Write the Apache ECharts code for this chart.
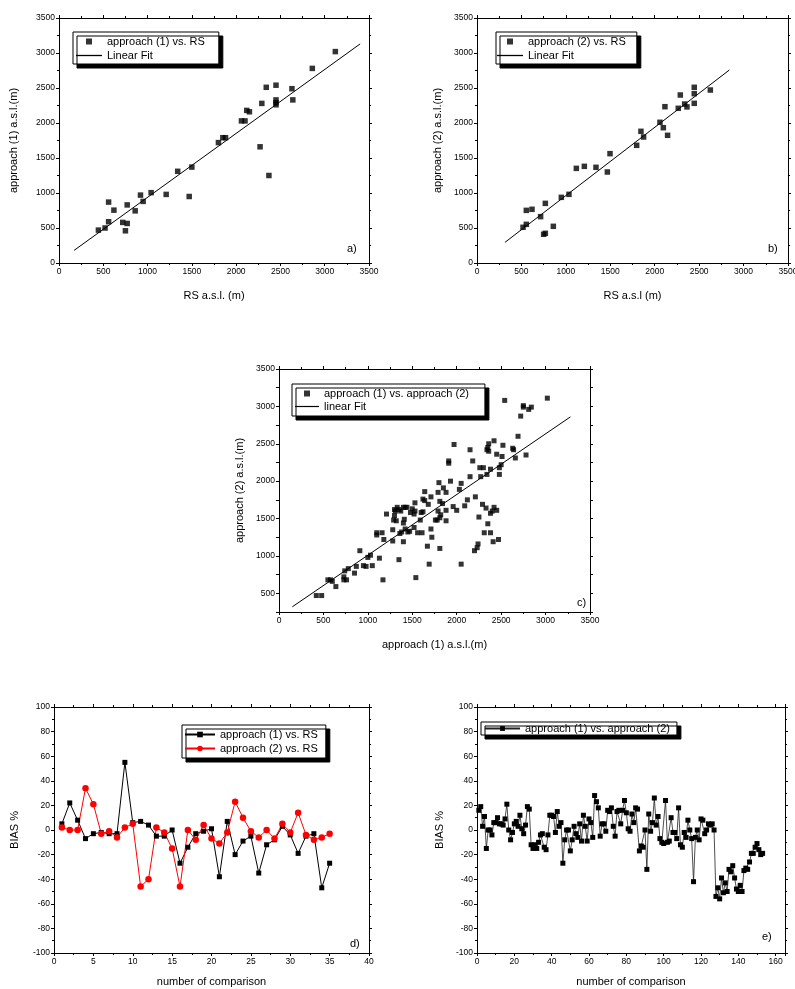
<!DOCTYPE html>
<html>
<head>
<meta charset="utf-8">
<script src="https://cdn.jsdelivr.net/npm/echarts@6/dist/echarts.min.js"></script>
<style>
  body { margin: 0; background: #fff; }
  .panel { position: absolute; }
  #pa { left: 0; top: 0; width: 398px; height: 310px; }
  #pb { left: 398px; top: 0; width: 397px; height: 310px; }
  #pc { left: 200px; top: 340px; width: 420px; height: 330px; }
  #pd { left: 0; top: 680px; width: 398px; height: 309px; }
  #pe { left: 398px; top: 680px; width: 397px; height: 309px; }
</style>
</head>
<body>
<div id="pa" class="panel"></div>
<div id="pb" class="panel"></div>
<div id="pc" class="panel"></div>
<div id="pd" class="panel"></div>
<div id="pe" class="panel"></div>
<script>
// a) approach (1) vs. RS
var rsA = [445, 520, 560, 560, 620, 720, 750, 770, 770, 860, 920, 950, 1040, 1210, 1340, 1470, 1500, 1800, 1850, 1880, 2060, 2100, 2120, 2150, 2270, 2290, 2340, 2370, 2450, 2450, 2450, 2450, 2630, 2640, 2860, 3120];
var ap1A = [470, 500, 590, 870, 755, 580, 460, 565, 830, 745, 970, 880, 1005, 980, 1310, 950, 1370, 1720, 1790, 1790, 2030, 2030, 2180, 2160, 1660, 2280, 2510, 1250, 2540, 2330, 2290, 2260, 2490, 2330, 2780, 3020];
var fitAX = [170, 3400];
var fitAY = [180, 3130];

// b) approach (2) vs. RS
var rsB = [518, 555, 555, 619, 716, 750, 769, 769, 859, 949, 1035, 1118, 1208, 1339, 1467, 1497, 1797, 1845, 1875, 2059, 2097, 2115, 2145, 2265, 2288, 2337, 2363, 2445, 2445, 2445, 2626];
var ap2B = [510, 752, 552, 767, 662, 410, 424, 852, 524, 938, 981, 1352, 1381, 1367, 1300, 1562, 1681, 1881, 1800, 2010, 1933, 2233, 1824, 2210, 2400, 2271, 2230, 2510, 2419, 2281, 2471];
var fitBX = [315, 2840];
var fitBY = [295, 2757];

// c) approach (1) vs. approach (2)
var ap1C = [3020, 2540, 2750, 2750, 2810, 2840, 2720, 2690, 2780, 2630, 2640, 2660, 2520, 2510, 2500, 2480, 2480, 2450, 2420, 2360,
  2350, 2340, 2360, 2380, 2340, 2300, 2260, 2270, 2180, 2150, 2150, 2120, 2090, 2050, 2030, 2000, 1960, 1930, 1910, 1910,
  1970, 1880, 1880, 1850, 1840, 1820, 1810, 1800, 1790, 1790, 1810, 1780, 1810, 1710, 1720, 1710, 1690, 1670, 1680, 1640,
  1640, 1620, 1620, 1610, 1590, 1560, 1540, 1530, 1520, 1520, 1500, 1470, 1440, 1420, 1410, 1400, 1400, 1400, 1380, 1360,
  1350, 1350, 1330, 1310, 1300, 1300, 1290, 1280, 1280, 1210, 1180, 1160, 1170, 1130, 1100, 1100, 1050, 1030, 1000, 980,
  950, 910, 870, 850, 780, 760, 740, 730, 730, 640, 600, 580, 550, 480, 420, 2200, 2230, 2240, 2210, 2250,
  2290, 2330, 2310, 2350, 2380, 2380, 2400, 2420, 2410, 2450, 2470, 2050, 1480, 1370, 1450, 1420, 1320, 1530, 1600, 1880, 1760];
var ap2C = [3110, 3080, 3010, 2990, 2960, 2990, 2870, 2600, 2350, 2440, 2420, 2310, 2480, 2330, 2220, 2180, 2090, 2360, 2540, 2500,
  2450, 2420, 2400, 2160, 2090, 2180, 2180, 2060, 2270, 2420, 2060, 1750, 1670, 1970, 1890, 1610, 1660, 2000, 2270, 2240,
  2490, 1850, 1470, 1910, 1700, 1550, 1730, 1980, 1850, 1600, 1510, 1480, 1100, 1790, 1250, 1360, 890, 1130, 1690, 1860,
  1740, 1760, 1590, 1310, 1480, 1310, 710, 1710, 1560, 1380, 1630, 1330, 1650, 1360, 1490, 1650, 1440, 1190, 1320, 1300,
  950, 1620, 1650, 1600, 1620, 1540, 1480, 1200, 1350, 1560, 1220, 1310, 680, 970, 1310, 1280, 870, 1010, 980, 860,
  870, 1070, 860, 770, 830, 680, 800, 720, 680, 590, 660, 680, 680, 470, 470, 1070, 1110, 1160, 1790, 1520,
  1690, 1640, 1310, 1430, 1310, 1570, 1600, 1650, 1190, 1610, 1220, 890, 1580, 1600, 1320, 1650, 1470, 1600, 1580, 1610, 1480];
var fitCX = [150, 3280];
var fitCY = [320, 2860];

// d) BIAS %, 35 comparisons
var biasD1 = [5, 22, 8, -7, -3, -2, -3, -3, 55, 6, 7, 4, -5, -5, 0, -27, -14, -3, -1, 1, -38, 7, -20, -9, -5, -35, -12, -8, 3, -4, -19, -5, -3, -47, -27];
var biasD2 = [2, 0, 0, 34, 21, -3, -1, -6, 2, 5, -46, -40, 2, -2, -15, -46, 0, -8, 4, -7, -11, -2, 23, 10, -1, -6, 0, -7, 5, -2, 14, -4, -8, -6, -3];

// e) BIAS %, approach (1) vs. approach (2)
var biasE = [16, 19, 3, 11, -15, 0, 0, -4, 6, 6, 10, 5, 5, 4, 9, 21, 0, -8, -2, 5,
  7, 3, 12, 1, -3, 4, 19, 17, -12, -15, -12, -15, -10, -4, -3, -14, -16, -4, 12, 12,
  11, -2, 15, 3, 6, -27, -8, 0, 0, -17, -8, 3, -3, -6, 5, -9, 12, 3, -9, 9,
  6, -6, 28, 23, 18, -5, 5, 5, -1, 16, 15, 18, 3, -5, 15, 16, 5, 16, 24, 14,
  1, -1, 13, 6, 18, 17, -17, -13, -14, 0, -32, 13, -1, 6, 26, 4, 11, -7, -10, -11,
  24, -10, -9, 10, -2, -2, -7, 18, -12, -14, -2, -6, 8, 0, -7, -42, -6, 0, -8, 9,
  8, -3, 0, 5, 4, 5, 0, -54, -47, -56, -39, -51, -43, -50, -32, -34, -29, -39, -48, -50,
  -45, -50, -33, -31, -32, -26, -19, -19, -14, -11, -16, -20, -19];

var FONT = '"Liberation Sans", Arial, sans-serif';
var SQUARE = 'path://M0,0h10v10h-10z';
var THINLINE = 'path://M0,0h26v1.3h-26z';

function zip(xs, ys) {
    var out = [];
    for (var i = 0; i < xs.length; i++) out.push([xs[i], ys[i]]);
    return out;
}
function indexed(ys) {
    var out = [];
    for (var i = 0; i < ys.length; i++) out.push([i + 1, ys[i]]);
    return out;
}
function plain(v) { return String(v); }

function gridAt(l, t, w, h) {
    return { left: l, top: t, width: w, height: h, outerBoundsMode: 'none', containLabel: false };
}

// one value axis (with its unlabeled twin on the opposite side)
function axes(dim, r, name, gap, labelFmt) {
    var base = {
        type: 'value', min: r[0], max: r[1], interval: r[2],
        splitLine: { show: false },
        axisLine: { onZero: false, lineStyle: { color: '#000', width: 1 } },
        axisTick: { length: 3, lineStyle: { color: '#000' } },
        minorTick: { show: r[3] > 1, splitNumber: r[3] || 2, length: 2, lineStyle: { color: '#000' } }
    };
    var main = Object.assign({}, base, {
        position: dim === 'x' ? 'bottom' : 'left',
        name: name, nameLocation: 'middle', nameGap: gap,
        nameTextStyle: { color: '#000', fontSize: 11, fontFamily: FONT },
        axisLabel: { color: '#000', fontSize: 8.5, fontFamily: FONT, margin: 4, formatter: labelFmt || plain }
    });
    var twin = Object.assign({}, base, {
        position: dim === 'x' ? 'top' : 'right',
        axisLabel: { show: false }
    });
    return [main, twin];
}

function legendBox(left, top, pad, gap, w, h) {
    return {
        orient: 'vertical', left: left, top: top, padding: pad, itemGap: gap,
        itemWidth: w, itemHeight: h,
        backgroundColor: '#fff', borderColor: '#000', borderWidth: 1,
        shadowColor: '#000', shadowBlur: 0, shadowOffsetX: 4, shadowOffsetY: 4,
        textStyle: { color: '#000', fontSize: 11, fontFamily: FONT },
        selectedMode: false
    };
}

function tag(text, left, top) {
    return [{ type: 'text', left: left, top: top,
        style: { text: text, fill: '#000', fontSize: 11, fontFamily: FONT } }];
}

function scatterPanel(id, p) {
    var chart = echarts.init(document.getElementById(id));
    var lg = legendBox(p.lg[0], p.lg[1], p.lg[2], p.lg[3], p.lg[4], 6);
    lg.data = [{ name: p.sName, icon: SQUARE }, { name: p.fName, icon: THINLINE }];
    chart.setOption({
        animation: false,
        textStyle: { fontFamily: FONT },
        grid: gridAt(p.grid[0], p.grid[1], p.grid[2], p.grid[3]),
        xAxis: axes('x', p.xr, p.xName, p.xGap),
        yAxis: axes('y', p.yr, p.yName, p.yGap, p.yFmt),
        legend: lg,
        graphic: tag(p.tag[0], p.tag[1], p.tag[2]),
        series: [
            { name: p.sName, type: 'scatter', data: p.pts, symbol: 'rect', symbolSize: p.size,
              itemStyle: { color: '#000' } },
            { name: p.fName, type: 'line', data: p.fit, symbol: 'none',
              itemStyle: { color: '#000' }, lineStyle: { color: '#000', width: 1 } }
        ]
    });
    return chart;
}

scatterPanel('pa', {
    grid: [59, 18, 310, 245],
    xr: [0, 3500, 500, 2], yr: [0, 3500, 500, 2],
    xName: 'RS a.s.l. (m)', xGap: 27,
    yName: 'approach (1) a.s.l.(m)', yGap: 40,
    sName: 'approach (1) vs. RS', fName: 'Linear Fit',
    pts: zip(rsA, ap1A), fit: zip(fitAX, fitAY), size: 5.5,
    lg: [73, 32, [4, 14, 3, 3], 3, 26],
    tag: ['a)', 347, 243]
});

scatterPanel('pb', {
    grid: [79, 18, 311, 245],
    xr: [0, 3500, 500, 2], yr: [0, 3500, 500, 2],
    xName: 'RS a.s.l (m)', xGap: 27,
    yName: 'approach (2) a.s.l.(m)', yGap: 34,
    sName: 'approach (2) vs. RS', fName: 'Linear Fit',
    pts: zip(rsB, ap2B), fit: zip(fitBX, fitBY), size: 5.5,
    lg: [98, 32, [4, 11, 3, 1], 3, 26],
    tag: ['b)', 370, 243]
});

scatterPanel('pc', {
    grid: [79, 29, 311, 243],
    xr: [0, 3500, 500, 2], yr: [250, 3500, 250, 1],
    yFmt: function (v) { return v % 500 === 0 ? String(v) : ''; },
    xName: 'approach (1) a.s.l.(m)', xGap: 27,
    yName: 'approach (2) a.s.l.(m)', yGap: 31,
    sName: 'approach (1) vs. approach (2)', fName: 'linear Fit',
    pts: zip(ap1C, ap2C), fit: zip(fitCX, fitCY), size: 5,
    lg: [92, 44, [4, 16, 4, 3], 2, 24],
    tag: ['c)', 377, 257]
});

// d)
var chartD = echarts.init(document.getElementById('pd'));
var lgD = legendBox(182, 45, [4, 8, 4, 2], 3, 30, 7);
lgD.data = ['approach (1) vs. RS', 'approach (2) vs. RS'];
chartD.setOption({
    animation: false,
    textStyle: { fontFamily: FONT },
    grid: gridAt(54, 27, 315, 246),
    xAxis: axes('x', [0, 40, 5, 2], 'number of comparison', 23),
    yAxis: axes('y', [-100, 100, 20, 2], 'BIAS %', 34),
    legend: lgD,
    graphic: tag('d)', 350, 258),
    series: [
        { name: 'approach (1) vs. RS', type: 'line', data: indexed(biasD1), symbol: 'rect', symbolSize: 5,
          itemStyle: { color: '#000' }, lineStyle: { color: '#000', width: 1 } },
        { name: 'approach (2) vs. RS', type: 'line', data: indexed(biasD2), symbol: 'circle', symbolSize: 6.5,
          itemStyle: { color: '#ff0000' }, lineStyle: { color: '#ff0000', width: 1 } }
    ]
});

// e)
var chartE = echarts.init(document.getElementById('pe'));
var lgE = legendBox(83, 42, [1, 7, 1, 3], 2, 35, 6);
lgE.data = ['approach (1) vs. approach (2)'];
chartE.setOption({
    animation: false,
    textStyle: { fontFamily: FONT },
    grid: gridAt(79, 27, 308, 246),
    xAxis: axes('x', [0, 165, 20, 2], 'number of comparison', 23,
        function (v) { return v % 20 === 0 ? String(v) : ''; }),
    yAxis: axes('y', [-100, 100, 20, 2], 'BIAS %', 30),
    legend: lgE,
    graphic: tag('e)', 364, 251),
    series: [
        { name: 'approach (1) vs. approach (2)', type: 'line', data: indexed(biasE), symbol: 'rect', symbolSize: 5,
          itemStyle: { color: '#000' }, lineStyle: { color: '#222', width: 0.8 } }
    ]
});
</script>
</body>
</html>
